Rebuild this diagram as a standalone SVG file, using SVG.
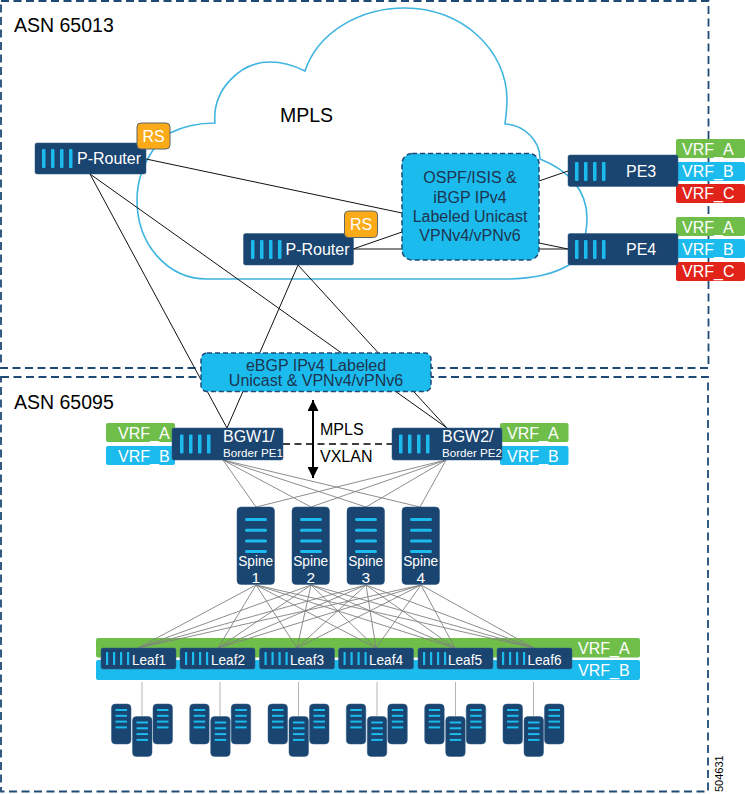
<svg xmlns="http://www.w3.org/2000/svg" xmlns:xlink="http://www.w3.org/1999/xlink" width="745" height="794" viewBox="0 0 745 794">
<style>
text{font-family:"Liberation Sans",Arial,sans-serif;}
.box{fill:none;stroke:#1f4a75;stroke-width:1.8;stroke-dasharray:8 4.5;}
.cloud{fill:#fff;stroke:#3fb4df;stroke-width:1.6;}
.navy{fill:#1a4570;stroke:#2f5a85;stroke-width:.5;}
.lb{fill:#1cbbee;}
.w{fill:#fff;font-size:16px;}
.d{fill:#1c3550;font-size:16px;text-anchor:middle;}
.k{fill:#000;}
.dk line,.dk{stroke:#111;stroke-width:1;}
.gr line{stroke:#808080;stroke-width:.9;}
.rs{fill:#fbab18;stroke:#5f6468;stroke-width:1;}
.g{fill:#6fbe4a;}.b{fill:#1cbbee;}.r{fill:#e2231a;}
.drop{stroke:#b5b5b5;stroke-width:1;}
.sp{font-size:15.5px;text-anchor:middle;}
.lf{font-size:15.5px;}
</style>
<defs>
<g id="bars"><rect x="0" y="0" width="3.5" height="19" rx="1" class="lb"/><rect x="9" y="0" width="3.5" height="19" rx="1" class="lb"/><rect x="18" y="0" width="3.5" height="19" rx="1" class="lb"/><rect x="27" y="0" width="3.5" height="19" rx="1" class="lb"/></g>
<g id="sbars"><rect x="0" y="0" width="2.2" height="13" class="lb"/><rect x="7" y="0" width="2.2" height="13" class="lb"/><rect x="14" y="0" width="2.2" height="13" class="lb"/><rect x="21" y="0" width="2.2" height="13" class="lb"/></g>
<g id="srv"><rect x="0" y="0" width="19.5" height="40" rx="4" class="navy"/><rect x="4" y="5" width="11.5" height="2" class="lb"/><rect x="4" y="10.8" width="11.5" height="2" class="lb"/><rect x="4" y="16.6" width="11.5" height="2" class="lb"/><rect x="4" y="22.4" width="11.5" height="2" class="lb"/></g>
<g id="trio"><use xlink:href="#srv" href="#srv" x="0" y="0"/><use xlink:href="#srv" href="#srv" x="41.5" y="0"/><use xlink:href="#srv" href="#srv" x="21" y="12.5"/></g>
<g id="sl"><rect x="8" y="11" width="22" height="3" rx="1.5" class="lb"/><rect x="8" y="21.7" width="22" height="3" rx="1.5" class="lb"/><rect x="8" y="32.4" width="22" height="3" rx="1.5" class="lb"/><rect x="8" y="43" width="22" height="3" rx="1.5" class="lb"/></g>
<marker id="ah" viewBox="0 0 10 10" refX="10" refY="5" markerWidth="11" markerHeight="11" markerUnits="userSpaceOnUse" orient="auto-start-reverse"><path d="M0,0L10,5L0,10Z" fill="#000"/></marker>
</defs>

<rect id="asn65013" class="box" x="1" y="1" width="707.5" height="367"/>
<rect id="asn65095" class="box" x="1" y="377" width="707" height="414.5"/>
<text x="14" y="32" font-size="19.5" class="k">ASN 65013</text>
<text x="14" y="409" font-size="19.5" class="k">ASN 65095</text>

<g id="mpls-cloud">
<path class="cloud" d="M170,133C184,126 198,123 215,123C212,90 240,62 270,62C283,62 295,66 305,71C318,32 360,8 405,8C462,8 507,50 507,100C507,108 506,116 505,124C524,125 540,140 540,159C568,170 587,190 587,218C587,238 580,255 569,265C552,275 530,279 505,279L207,279C168,279 137,245 137,200C137,182 143,165 153,150Z"/>
<text x="280" y="122" font-size="19.5" class="k">MPLS</text>
</g>

<g id="connectors">
<g class="dk">
<line x1="146" y1="159" x2="402" y2="213"/>
<line x1="353" y1="249" x2="402" y2="232"/>
<line x1="353" y1="249" x2="402" y2="249"/>
<line x1="539" y1="181" x2="568" y2="171"/>
<line x1="539" y1="243" x2="568" y2="249"/>
<line x1="539" y1="249" x2="568" y2="249"/>
<line x1="90" y1="174" x2="227" y2="428"/>
<line x1="90" y1="174" x2="447" y2="428"/>
<line x1="298" y1="265" x2="227" y2="428"/>
<line x1="298" y1="265" x2="447" y2="428"/>
</g>
<g class="gr">
<line x1="223" y1="460" x2="256" y2="507"/><line x1="223" y1="460" x2="311" y2="507"/><line x1="223" y1="460" x2="366" y2="507"/><line x1="223" y1="460" x2="420" y2="507"/>
<line x1="446" y1="460" x2="256" y2="507"/><line x1="446" y1="460" x2="311" y2="507"/><line x1="446" y1="460" x2="366" y2="507"/><line x1="446" y1="460" x2="420" y2="507"/>
</g>
<line x1="283" y1="444" x2="392" y2="444" stroke="#000" stroke-width="1.5" stroke-dasharray="7 4.5"/>
<line x1="313" y1="400" x2="313" y2="478" stroke="#000" stroke-width="2" marker-start="url(#ah)" marker-end="url(#ah)"/>
</g>

<g id="leaf-vrf-bars">
<rect class="g" x="96" y="638" width="544" height="19.5" rx="2"/>
<rect class="b" x="96" y="660" width="544" height="20" rx="2"/>
<text class="w" x="578" y="654">VRF_A</text>
<text class="w" x="578" y="676">VRF_B</text>
</g>

<g id="fabric-links" class="gr">
<line x1="256" y1="585" x2="138" y2="648"/><line x1="256" y1="585" x2="218" y2="648"/><line x1="256" y1="585" x2="297" y2="648"/><line x1="256" y1="585" x2="376" y2="648"/><line x1="256" y1="585" x2="455" y2="648"/><line x1="256" y1="585" x2="534" y2="648"/>
<line x1="311" y1="585" x2="138" y2="648"/><line x1="311" y1="585" x2="218" y2="648"/><line x1="311" y1="585" x2="297" y2="648"/><line x1="311" y1="585" x2="376" y2="648"/><line x1="311" y1="585" x2="455" y2="648"/><line x1="311" y1="585" x2="534" y2="648"/>
<line x1="366" y1="585" x2="138" y2="648"/><line x1="366" y1="585" x2="218" y2="648"/><line x1="366" y1="585" x2="297" y2="648"/><line x1="366" y1="585" x2="376" y2="648"/><line x1="366" y1="585" x2="455" y2="648"/><line x1="366" y1="585" x2="534" y2="648"/>
<line x1="421" y1="585" x2="138" y2="648"/><line x1="421" y1="585" x2="218" y2="648"/><line x1="421" y1="585" x2="297" y2="648"/><line x1="421" y1="585" x2="376" y2="648"/><line x1="421" y1="585" x2="455" y2="648"/><line x1="421" y1="585" x2="534" y2="648"/>
</g>

<g id="p-router-1"><rect class="navy" x="35" y="143" width="111" height="31" rx="2"/><use xlink:href="#bars" href="#bars" x="42" y="149"/><text class="w" x="77" y="163.5">P-Router</text></g>
<g id="rs-1"><rect class="rs" x="137" y="123" width="33" height="26" rx="4"/><text class="w" x="142.5" y="141.7">RS</text></g>
<g id="p-router-2"><rect class="navy" x="243.5" y="233.5" width="110" height="31.5" rx="2"/><use xlink:href="#bars" href="#bars" x="251" y="240"/><text class="w" x="285.5" y="254.5">P-Router</text></g>
<g id="rs-2"><rect class="rs" x="344.5" y="211" width="33" height="26.5" rx="4"/><text class="w" x="350" y="230">RS</text></g>

<g id="ospf-box"><rect x="402" y="153.5" width="137" height="106.5" rx="10" fill="#1cbbee" stroke="#1f4a75" stroke-width="1.5" stroke-dasharray="5 3"/>
<text class="d" x="470" y="183">OSPF/ISIS &amp;</text><text class="d" x="470" y="202.5">iBGP IPv4</text><text class="d" x="470" y="222">Labeled Unicast</text><text class="d" x="470" y="241">VPNv4/vPNv6</text></g>

<g id="pe3-vrfs"><rect class="g" x="676" y="139" width="69" height="19" rx="2"/><rect class="b" x="676" y="162" width="69" height="19" rx="2"/><rect class="r" x="676" y="184" width="69" height="19" rx="2"/><text class="w" x="682" y="155">VRF_A</text><text class="w" x="682" y="177">VRF_B</text><text class="w" x="682" y="199">VRF_C</text></g>
<g id="pe4-vrfs"><rect class="g" x="676" y="217" width="69" height="19" rx="2"/><rect class="b" x="676" y="239" width="69" height="19" rx="2"/><rect class="r" x="676" y="262" width="69" height="19" rx="2"/><text class="w" x="682" y="233">VRF_A</text><text class="w" x="682" y="255">VRF_B</text><text class="w" x="682" y="277">VRF_C</text></g>
<g id="pe3"><rect class="navy" x="568" y="155" width="110" height="31.5" rx="2"/><use xlink:href="#bars" href="#bars" x="575" y="162"/><text class="w" x="626" y="176.5">PE3</text></g>
<g id="pe4"><rect class="navy" x="568" y="233.5" width="110" height="31.5" rx="2"/><use xlink:href="#bars" href="#bars" x="575" y="240"/><text class="w" x="626" y="254.5">PE4</text></g>

<g id="ebgp-box"><rect x="201" y="353" width="230" height="38.5" rx="6" fill="#1cbbee" stroke="#1f4a75" stroke-width="1.5" stroke-dasharray="5 3"/>
<text class="d" x="316" y="371">eBGP IPv4 Labeled</text><text class="d" x="316" y="385.5">Unicast &amp; VPNv4/vPNv6</text></g>

<text x="320" y="435" font-size="16" class="k">MPLS</text>
<text x="320" y="462" font-size="16" class="k">VXLAN</text>

<g id="bgw1-vrfs"><rect class="g" x="106" y="423" width="69" height="19" rx="2"/><rect class="b" x="106" y="446" width="69" height="19" rx="2"/><text class="w" x="118" y="439">VRF_A</text><text class="w" x="118" y="462">VRF_B</text></g>
<g id="bgw2-vrfs"><rect class="g" x="500" y="423" width="68.5" height="19" rx="2"/><rect class="b" x="500" y="446" width="68.5" height="19" rx="2"/><text class="w" x="507" y="439">VRF_A</text><text class="w" x="507" y="462">VRF_B</text></g>
<g id="bgw1"><rect class="navy" x="172" y="428" width="111" height="32" rx="2"/><use xlink:href="#bars" href="#bars" x="180" y="434.5"/><text class="w" x="223" y="441.7">BGW1/</text><text class="w" x="223" y="457" style="font-size:11.6px">Border PE1</text></g>
<g id="bgw2"><rect class="navy" x="392" y="428" width="110" height="32" rx="2"/><use xlink:href="#bars" href="#bars" x="399" y="434.5"/><text class="w" x="442" y="441.7">BGW2/</text><text class="w" x="442" y="457" style="font-size:11.6px">Border PE2</text></g>

<g id="spine-1"><rect class="navy" x="237" y="507" width="37.5" height="77.5" rx="4"/><use xlink:href="#sl" href="#sl" x="237" y="507"/><text class="w sp" x="255.7" y="566" textLength="35" lengthAdjust="spacingAndGlyphs">Spine</text><text class="w sp" x="255.7" y="582.5">1</text></g>
<g id="spine-2"><rect class="navy" x="292" y="507" width="37.5" height="77.5" rx="4"/><use xlink:href="#sl" href="#sl" x="292" y="507"/><text class="w sp" x="310.7" y="566" textLength="35" lengthAdjust="spacingAndGlyphs">Spine</text><text class="w sp" x="310.7" y="582.5">2</text></g>
<g id="spine-3"><rect class="navy" x="347" y="507" width="37.5" height="77.5" rx="4"/><use xlink:href="#sl" href="#sl" x="347" y="507"/><text class="w sp" x="365.7" y="566" textLength="35" lengthAdjust="spacingAndGlyphs">Spine</text><text class="w sp" x="365.7" y="582.5">3</text></g>
<g id="spine-4"><rect class="navy" x="402" y="507" width="37.5" height="77.5" rx="4"/><use xlink:href="#sl" href="#sl" x="402" y="507"/><text class="w sp" x="420.7" y="566" textLength="35" lengthAdjust="spacingAndGlyphs">Spine</text><text class="w sp" x="420.7" y="582.5">4</text></g>

<g id="leaf1"><rect class="navy" x="101" y="648" width="75" height="21" rx="2"/><use xlink:href="#sbars" href="#sbars" x="106" y="652"/><text class="w lf" x="132" y="665" textLength="34" lengthAdjust="spacingAndGlyphs">Leaf1</text></g>
<g id="leaf2"><rect class="navy" x="180" y="648" width="75" height="21" rx="2"/><use xlink:href="#sbars" href="#sbars" x="185" y="652"/><text class="w lf" x="211" y="665" textLength="34" lengthAdjust="spacingAndGlyphs">Leaf2</text></g>
<g id="leaf3"><rect class="navy" x="259.5" y="648" width="75" height="21" rx="2"/><use xlink:href="#sbars" href="#sbars" x="264.5" y="652"/><text class="w lf" x="290" y="665" textLength="34" lengthAdjust="spacingAndGlyphs">Leaf3</text></g>
<g id="leaf4"><rect class="navy" x="338.5" y="648" width="75" height="21" rx="2"/><use xlink:href="#sbars" href="#sbars" x="343.5" y="652"/><text class="w lf" x="369" y="665" textLength="34" lengthAdjust="spacingAndGlyphs">Leaf4</text></g>
<g id="leaf5"><rect class="navy" x="418" y="648" width="75" height="21" rx="2"/><use xlink:href="#sbars" href="#sbars" x="423" y="652"/><text class="w lf" x="448" y="665" textLength="34" lengthAdjust="spacingAndGlyphs">Leaf5</text></g>
<g id="leaf6"><rect class="navy" x="497" y="648" width="75" height="21" rx="2"/><use xlink:href="#sbars" href="#sbars" x="502" y="652"/><text class="w lf" x="527.5" y="665" textLength="34" lengthAdjust="spacingAndGlyphs">Leaf6</text></g>

<g id="server-drops">
<line class="drop" x1="142" y1="682" x2="142" y2="716"/><line class="drop" x1="220" y1="682" x2="220" y2="716"/><line class="drop" x1="298.5" y1="682" x2="298.5" y2="716"/><line class="drop" x1="377" y1="682" x2="377" y2="716"/><line class="drop" x1="455.5" y1="682" x2="455.5" y2="716"/><line class="drop" x1="533.5" y1="682" x2="533.5" y2="716"/>
</g>
<g id="servers-1"><use xlink:href="#trio" href="#trio" x="111.5" y="704"/></g>
<g id="servers-2"><use xlink:href="#trio" href="#trio" x="189.7" y="704"/></g>
<g id="servers-3"><use xlink:href="#trio" href="#trio" x="268" y="704"/></g>
<g id="servers-4"><use xlink:href="#trio" href="#trio" x="346.3" y="704"/></g>
<g id="servers-5"><use xlink:href="#trio" href="#trio" x="424.7" y="704"/></g>
<g id="servers-6"><use xlink:href="#trio" href="#trio" x="503" y="704"/></g>

<text transform="translate(723,792) rotate(-90)" font-size="11" class="k">504631</text>
</svg>
